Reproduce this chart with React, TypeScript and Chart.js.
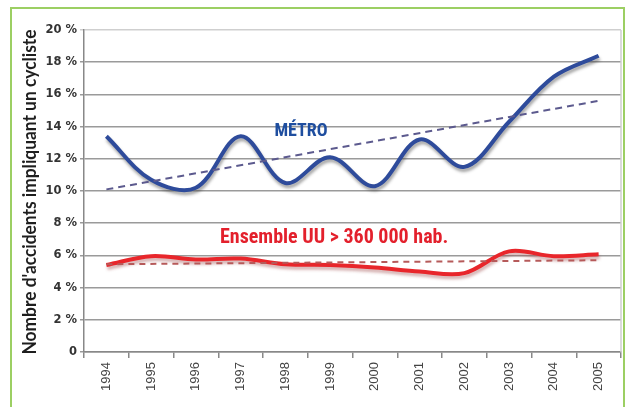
import React, { useEffect, useRef } from 'react';
import { Chart, registerables } from 'chart.js';
Chart.register(...registerables);

const YEARS = ['1994', '1995', '1996', '1997', '1998', '1999', '2000', '2001', '2002', '2003', '2004', '2005'];
const METRO = [13.4, 10.7, 10.2, 13.4, 10.5, 12.1, 10.3, 13.2, 11.5, 14.3, 17.1, 18.4];
const METRO_TREND = [10.1, null, null, null, null, null, null, null, null, null, null, 15.6];
const UU = [5.4, 5.95, 5.75, 5.8, 5.45, 5.4, 5.25, 5.0, 4.9, 6.25, 5.95, 6.07];
const UU_TREND = [5.45, null, null, null, null, null, null, null, null, null, null, 5.7];
const Y_MIN = 0;
const Y_MAX = 20;
const Y_STEP = 2;
const Y_TITLE = "Nombre d'accidents impliquant un cycliste";
const METRO_LABEL = 'MÉTRO';
const UU_LABEL = 'Ensemble UU > 360 000 hab.';

const shadowPlugin = {
  id: 'lineShadow',
  beforeDatasetDraw(chart: any, args: any) {
    const ds = chart.data.datasets[args.index];
    if (!ds.shadowColor) return;
    const ctx = chart.ctx;
    ctx.save();
    ctx.shadowColor = ds.shadowColor;
    ctx.shadowBlur = 3;
    ctx.shadowOffsetX = 1;
    ctx.shadowOffsetY = 3;
  },
  afterDatasetDraw(chart: any, args: any) {
    const ds = chart.data.datasets[args.index];
    if (!ds.shadowColor) return;
    chart.ctx.restore();
  },
};

const decorPlugin = {
  id: 'decor',
  beforeDatasetsDraw(chart: any) {
    const { ctx, chartArea } = chart;
    ctx.save();
    ctx.strokeStyle = '#cfcfcf';
    ctx.lineWidth = 1.5;
    ctx.beginPath();
    ctx.moveTo(chartArea.right, chartArea.top);
    ctx.lineTo(chartArea.right, chartArea.bottom);
    ctx.stroke();
    ctx.restore();
  },
  afterDraw(chart: any) {
    const { ctx, chartArea, scales } = chart;
    const xs = scales.x;
    const ys = scales.y;
    ctx.save();
    ctx.translate(30, (chartArea.top + chartArea.bottom) / 2 + 1);
    ctx.rotate(-Math.PI / 2);
    ctx.font = 'bold 18px Lato, "DejaVu Sans", sans-serif';
    ctx.fillStyle = '#1e1e1e';
    ctx.textAlign = 'center';
    ctx.textBaseline = 'middle';
    ctx.fillText(Y_TITLE, 0, 0, 325);
    ctx.restore();

    ctx.save();
    ctx.textAlign = 'center';
    ctx.textBaseline = 'middle';
    ctx.font = 'bold 18px "Liberation Sans Narrow", "Roboto Condensed", Roboto, sans-serif';
    ctx.fillStyle = '#1f4e9f';
    const step = xs.getPixelForValue(1) - xs.getPixelForValue(0);
    ctx.fillText(METRO_LABEL, xs.getPixelForValue(0) + step * 4.35, ys.getPixelForValue(13.7), 55);
    ctx.font = 'bold 20px "Liberation Sans Narrow", "Roboto Condensed", Roboto, sans-serif';
    ctx.fillStyle = '#e3202c';
    ctx.fillText(UU_LABEL, xs.getPixelForValue(0) + step * 5.09, ys.getPixelForValue(7.1), 231);
    ctx.restore();
  },
};

export default function App() {
  const ref = useRef<HTMLCanvasElement | null>(null);
  useEffect(() => {
    if (!ref.current) return;
    const chart = new Chart(ref.current, {
      type: 'line',
      data: {
        labels: YEARS,
        datasets: [
          {
            data: METRO_TREND,
            borderColor: '#5c5a8e',
            borderWidth: 2,
            borderDash: [7, 5],
            pointRadius: 0,
            spanGaps: true,
            tension: 0,
            fill: false,
          },
          {
            data: UU_TREND,
            borderColor: '#b65a5a',
            borderWidth: 2,
            borderDash: [6, 5],
            pointRadius: 0,
            spanGaps: true,
            tension: 0,
            fill: false,
          },
          {
            data: METRO,
            borderColor: '#2e4b9b',
            borderWidth: 4,
            pointRadius: 0,
            tension: 0.35,
            fill: false,
            shadowColor: 'rgba(60,60,60,0.45)',
          } as any,
          {
            data: UU,
            borderColor: '#e8262b',
            borderWidth: 4,
            pointRadius: 0,
            tension: 0.35,
            fill: false,
            shadowColor: 'rgba(150,60,60,0.4)',
          } as any,
        ],
      },
      options: {
        responsive: false,
        animation: false,
        devicePixelRatio: 1,
        layout: { padding: { top: 30, right: 14, left: 0, bottom: 0 } },
        plugins: { legend: { display: false }, tooltip: { enabled: false } },
        scales: {
          x: {
            type: 'category',
            offset: true,
            grid: {
              offset: true,
              drawOnChartArea: false,
              tickLength: 6,
              color: '#888',
              lineWidth: 1.5,
            },
            border: { color: '#888', width: 1.5 },
            ticks: {
              minRotation: 90,
              maxRotation: 90,
              padding: 4,
              color: '#444',
              font: { family: '"Liberation Sans", Arial, sans-serif', size: 13 },
            },
            afterFit: (s: any) => {
              s.height = 55;
            },
          },
          y: {
            min: Y_MIN,
            max: Y_MAX,
            ticks: {
              stepSize: Y_STEP,
              padding: 3,
              color: '#333',
              font: { family: '"DejaVu Sans", sans-serif', size: 11.5, weight: 'bold' },
              callback: (v: any) => (v === 0 ? '0' : v + ' %'),
            },
            grid: {
              tickLength: 4,
              lineWidth: 1.5,
              color: (c: any) => (c.tick && c.tick.value === Y_MAX ? '#cfcfcf' : '#9a9a9a'),
            },
            border: { color: '#888', width: 1.5 },
            afterFit: (s: any) => {
              s.width = 84;
            },
          },
        },
      },
      plugins: [shadowPlugin, decorPlugin],
    } as any);
    return () => chart.destroy();
  }, []);

  return (
    <div style={{ position: 'absolute', left: 0, top: 0, width: 635, height: 407, overflow: 'hidden', background: '#fff' }}>
      <div
        style={{
          position: 'absolute',
          left: 10,
          top: 7,
          width: 615,
          height: 430,
          border: '2px solid #9ccf63',
          boxSizing: 'border-box',
        }}
      />
      <canvas ref={ref} width={635} height={407} style={{ position: 'absolute', left: 0, top: 0, width: 635, height: 407 }} />
    </div>
  );
}
